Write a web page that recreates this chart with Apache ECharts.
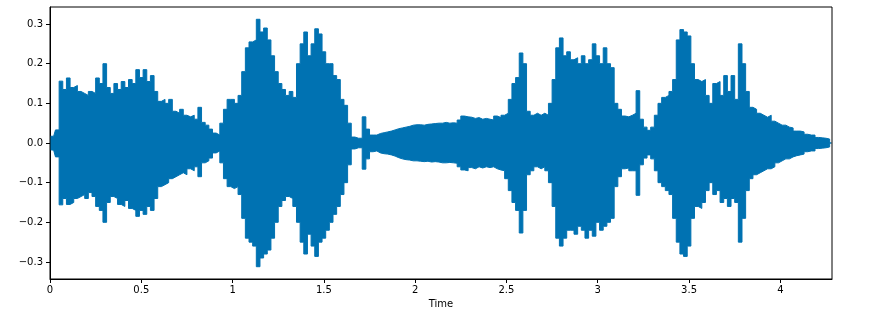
<!DOCTYPE html>
<html>
<head>
<meta charset="utf-8">
<script src="https://cdn.jsdelivr.net/npm/echarts@6/dist/echarts.min.js"></script>
<style>
html,body{margin:0;padding:0;background:#fff;}
#chart{width:871px;height:317px;}
</style>
</head>
<body>
<div id="chart"></div>
<script>
// Waveform envelope: one max / min value every 0.02 s
const envelopeStart = 0;
const envelopeStep = 0.02;
const timeEnd = 4.283;
const upperEnvelope = [
  .017,.017,.033,.156,.135,.164,.14,.145,.13,.125,
  .12,.13,.125,.164,.15,.2,.14,.125,.15,.135,
  .155,.14,.16,.15,.185,.165,.185,.155,.17,.13,
  .105,.11,.1,.11,.08,.075,.085,.07,.066,.07,
  .06,.09,.052,.045,.035,.025,.02,.05,.085,.11,
  .11,.1,.12,.18,.24,.255,.26,.312,.28,.29,
  .26,.22,.18,.15,.135,.12,.13,.115,.2,.25,
  .28,.22,.25,.288,.275,.23,.2,.2,.17,.16,
  .11,.095,.05,.015,.012,.012,.066,.035,.02,.02,
  .024,.026,.028,.03,.033,.036,.038,.04,.042,.045,
  .046,.046,.045,.047,.048,.049,.05,.05,.052,.05,
  .051,.05,.058,.068,.066,.065,.062,.064,.06,.062,
  .06,.058,.068,.064,.07,.075,.11,.15,.165,.227,
  .2,.08,.07,.075,.07,.075,.07,.1,.16,.24,
  .265,.22,.23,.21,.215,.2,.22,.2,.21,.25,
  .22,.2,.24,.2,.19,.1,.085,.068,.066,.07,
  .075,.132,.06,.04,.032,.04,.07,.1,.115,.12,
  .13,.16,.26,.286,.28,.27,.2,.16,.155,.16,
  .12,.1,.15,.155,.12,.17,.13,.17,.11,.25,
  .2,.13,.09,.085,.075,.07,.065,.07,.055,.05,
  .045,.045,.04,.038,.03,.03,.028,.022,.02,.02,
  .014,.013,.012,.01,0
];
const lowerEnvelope = [
  -.017,-.018,-.035,-.156,-.14,-.155,-.15,-.14,-.135,-.13,
  -.14,-.125,-.135,-.16,-.17,-.2,-.15,-.135,-.14,-.155,
  -.16,-.145,-.165,-.17,-.185,-.17,-.18,-.16,-.17,-.14,
  -.11,-.105,-.1,-.09,-.085,-.08,-.075,-.08,-.065,-.07,
  -.06,-.085,-.05,-.045,-.038,-.025,-.02,-.05,-.09,-.11,
  -.115,-.11,-.13,-.19,-.24,-.25,-.26,-.312,-.29,-.28,
  -.27,-.24,-.2,-.16,-.145,-.135,-.14,-.16,-.2,-.25,
  -.28,-.23,-.26,-.286,-.25,-.24,-.22,-.2,-.18,-.16,
  -.13,-.1,-.055,-.015,-.012,-.012,-.066,-.04,-.022,-.02,
  -.025,-.027,-.028,-.03,-.033,-.037,-.04,-.042,-.043,-.045,
  -.045,-.046,-.047,-.046,-.048,-.047,-.048,-.05,-.05,-.049,
  -.05,-.051,-.06,-.068,-.07,-.062,-.065,-.06,-.063,-.06,
  -.062,-.06,-.065,-.068,-.07,-.09,-.12,-.15,-.17,-.227,
  -.17,-.08,-.07,-.06,-.065,-.06,-.07,-.1,-.16,-.24,
  -.26,-.24,-.22,-.22,-.23,-.21,-.22,-.24,-.22,-.235,
  -.2,-.22,-.21,-.2,-.19,-.11,-.085,-.065,-.063,-.07,
  -.07,-.132,-.055,-.038,-.03,-.04,-.07,-.1,-.11,-.12,
  -.13,-.19,-.25,-.28,-.286,-.26,-.19,-.16,-.165,-.15,
  -.12,-.1,-.13,-.12,-.15,-.14,-.16,-.14,-.15,-.25,
  -.19,-.12,-.09,-.08,-.075,-.07,-.065,-.065,-.06,-.05,
  -.045,-.04,-.04,-.035,-.032,-.03,-.028,-.022,-.02,-.02,
  -.014,-.013,-.012,-.01,0
];
const xTicks = [0, 0.5, 1, 1.5, 2, 2.5, 3, 3.5, 4];
const yTicks = [-0.3, -0.2, -0.1, 0, 0.1, 0.2, 0.3];
const xAxisTitle = 'Time';
const yLimit = 0.343;

const waveColor = '#0072B2';
const toPairs = arr => arr.map((v, i) => [envelopeStart + i * envelopeStep, v]);
const upperData = toPairs(upperEnvelope).concat([[timeEnd, 0]]);
const lowerData = toPairs(lowerEnvelope).concat([[timeEnd, 0]]);

const fmtY = v => (v < -1e-9 ? '\u2212' : '') + Math.abs(v).toFixed(1);
const fmtX = v => String(Math.round(v * 10) / 10);
const font = 'DejaVu Sans';

const chart = echarts.init(document.getElementById('chart'), null, {renderer: 'canvas'});
const waveSeries = (name, data) => ({
  name, type: 'line', data, showSymbol: false, symbol: 'none', sampling: null,
  step: 'middle',
  lineStyle: {color: waveColor, width: 1},
  areaStyle: {color: waveColor, opacity: 1, origin: 0},
  silent: true, z: 2
});
chart.setOption({
  animation: false,
  backgroundColor: '#fff',
  grid: {left: 50, right: 39, top: 7, bottom: 38, show: true, borderColor: '#000', borderWidth: 1, backgroundColor: 'transparent', z: 5},
  xAxis: {
    type: 'value', min: 0, max: timeEnd,
    name: xAxisTitle, nameLocation: 'middle', nameGap: 20,
    nameTextStyle: {fontFamily: font, fontSize: 10, color: '#000'},
    axisLine: {show: true, onZero: false, lineStyle: {color: '#000', width: 1}},
    axisTick: {show: true, length: 4, lineStyle: {color: '#000'}, customValues: xTicks},
    axisLabel: {fontFamily: font, fontSize: 10, color: '#000', margin: 6, customValues: xTicks, formatter: fmtX},
    splitLine: {show: false}
  },
  yAxis: {
    type: 'value', min: -yLimit, max: yLimit,
    axisLine: {show: true, lineStyle: {color: '#000', width: 1}},
    axisTick: {show: true, length: 4, lineStyle: {color: '#000'}, customValues: yTicks},
    axisLabel: {fontFamily: font, fontSize: 10, color: '#000', margin: 7, customValues: yTicks, formatter: fmtY},
    splitLine: {show: false}
  },
  series: [waveSeries('upper', upperData), waveSeries('lower', lowerData)]
});
</script>
</body>
</html>
